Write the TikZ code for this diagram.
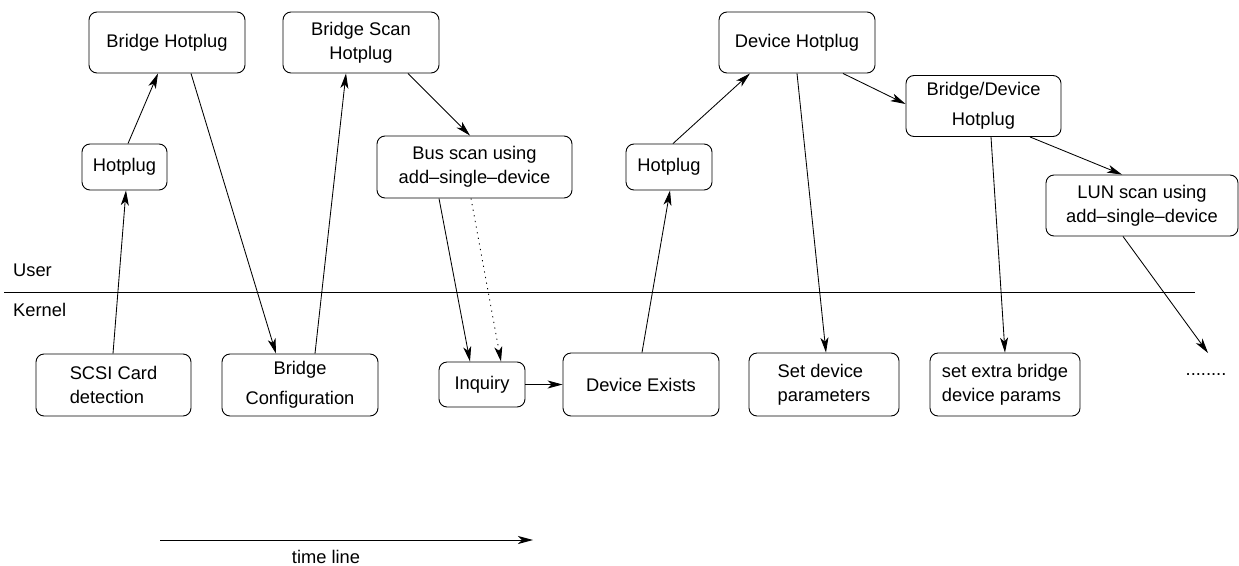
\documentclass[tikz,border=0pt]{standalone}
\usepackage{fontspec}
\setmainfont{Liberation Sans}
\usetikzlibrary{arrows.meta}
\begin{document}
\begin{tikzpicture}[x=1pt,y=-1pt,
  box/.style={draw, rounded corners=8pt, line width=0.9pt, align=center,
    inner sep=0pt, font=\fontsize{18.3}{24}\selectfont},
  lbl/.style={inner sep=0pt, font=\fontsize{18.3}{24}\selectfont},
  flow/.style={line width=0.85pt, -{Stealth[length=15pt,width=8pt,inset=4pt]}},
  hint/.style={flow, dash pattern=on 1.2pt off 4.5pt}]
\useasboundingbox (0,0) rectangle (1239,565);

% user space (top row)
\node[box, minimum width=156pt, minimum height=61pt] (bh)  at (167,42.5) {Bridge Hotplug};
\node[box, minimum width=156pt, minimum height=61pt] (bsh) at (361,42.5) {Bridge Scan\\Hotplug};
\node[box, minimum width=156pt, minimum height=61pt] (dh)  at (797,42.5) {Device Hotplug};
\node[box, minimum width=155pt, minimum height=61pt] (bdh) at (983.5,106) {Bridge/Device\\[6pt]Hotplug};
\node[box, minimum width=85pt, minimum height=46pt]  (hp1) at (124.5,167) {Hotplug};
\node[box, minimum width=86pt, minimum height=46pt]  (hp2) at (669,167) {Hotplug};
\node[box, minimum width=195pt, minimum height=62pt] (bus) at (474.5,167) {Bus scan using\\add--single--device};
\node[box, minimum width=192pt, minimum height=61pt] (lun) at (1142,205.5) {LUN scan using\\add--single--device};

% user / kernel boundary
\node[lbl, anchor=west] (user) at (13,270) {User};
\node[lbl, anchor=west] (kern) at (13,310) {Kernel};
\coordinate (sepL) at (4,292);
\coordinate (sepR) at (1195,292);
\draw[line width=0.9pt] (sepL) -- (sepR);

% kernel space (bottom row)
\node[box, align=left, minimum width=155pt, minimum height=62pt] (scsi) at (113.5,385) {SCSI Card\\detection};
\node[box, minimum width=156pt, minimum height=62pt] (bc)  at (300,385) {Bridge\\[6pt]Configuration};
\node[box, minimum width=86pt, minimum height=45pt]  (inq) at (482,384.5) {Inquiry};
\node[box, minimum width=156pt, minimum height=63pt] (dex) at (641,384.5) {Device Exists};
\node[box, align=left, minimum width=150pt, minimum height=63pt] (sdp) at (824,384.5) {Set device\\parameters};
\node[box, align=left, minimum width=150pt, minimum height=63pt] (seb) at (1005,384.5) {set extra bridge\\device params};
\node[lbl] (dots) at (1206,375) {........};
\coordinate (dotsin) at (1208,353);

% event flow
\draw[flow] ([xshift=-0.5pt]scsi.north) -- ([xshift=1.5pt]hp1.south);
\draw[flow] ([xshift=3.5pt]hp1.north) -- ([xshift=-9pt]bh.south);
\draw[flow] ([xshift=24pt]bh.south) -- ([xshift=-24pt]bc.north);
\draw[flow] ([xshift=15pt]bc.north) -- ([xshift=-15pt]bsh.south);
\draw[flow] ([xshift=47pt]bsh.south) -- ([xshift=-4.5pt]bus.north);
\draw[flow] ([xshift=-35.5pt]bus.south) -- ([xshift=-12pt]inq.north);
\draw[hint] ([xshift=-3.5pt]bus.south) -- ([xshift=19pt]inq.north);
\draw[flow] (inq.east) -- (dex.west);
\draw[flow] ([xshift=1pt]dex.north) -- ([xshift=1pt]hp2.south);
\draw[flow] ([xshift=4pt]hp2.north) -- ([xshift=-47pt]dh.south);
\draw[flow] (dh.south) -- ([xshift=2pt]sdp.north);
\draw[flow] ([xshift=46pt]dh.south) -- ([yshift=2pt]bdh.west);
\draw[flow] ([xshift=7.5pt]bdh.south) -- (seb.north);
\draw[flow] ([xshift=46.5pt]bdh.south) -- ([xshift=-20pt]lun.north);
\draw[flow] ([xshift=-19pt]lun.south) -- (dotsin);

% time axis
\coordinate (t0) at (160,540);
\coordinate (t1) at (533,540);
\draw[flow] (t0) -- (t1);
\node[lbl] (tl) at (326,557) {time line};
\end{tikzpicture}
\end{document}
